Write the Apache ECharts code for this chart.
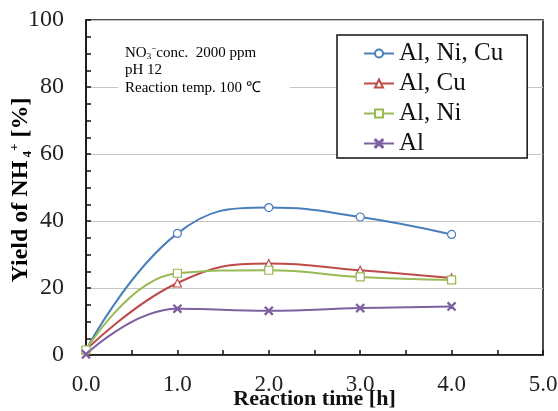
<!DOCTYPE html>
<html>
<head>
    <meta charset="utf-8">
    <title>Yield of NH4+</title>
    <script src="https://cdn.jsdelivr.net/npm/echarts@6/dist/echarts.min.js"></script>
</head>
<body style="margin:0">
    <div id="main" style="width: 558px;height:411px;"></div>
    <script type="text/javascript">

// data
var hours = [0, 1, 2, 3, 4];
var alNiCu = [1.5, 36.3, 44.0, 41.2, 36.0];
var alCu = [1.5, 21.5, 27.3, 25.3, 23.0];
var alNi = [1.5, 24.4, 25.3, 23.3, 22.4];
var alOnly = [0.2, 13.8, 13.2, 14.0, 14.5];
var seriesNames = ['Al, Ni, Cu', 'Al, Cu', 'Al, Ni', 'Al'];
var xTicks = [0, 1, 2, 3, 4, 5];
var yTicks = [0, 20, 40, 60, 80, 100];

var serif = '"Liberation Serif", "Times New Roman", serif';
var crossPath = 'path://M0,1L1,0L5,4L9,0L10,1L6,5L10,9L9,10L5,6L1,10L0,9L4,5Z';

function pairs(ys) {
    return hours.map(function (h, i) { return [h, ys[i]]; });
}

function makeSeries(name, ys, color, symbol, size) {
    return {
        name: name,
        type: 'line',
        smooth: 0.45,
        data: pairs(ys),
        symbol: symbol,
        symbolSize: size,
        showAllSymbol: true,
        lineStyle: { color: color, width: 2 },
        itemStyle: { color: '#fff', borderColor: color, borderWidth: 1.2 },
        emphasis: { disabled: true }
    };
}

var myChart = echarts.init(document.getElementById('main'));

var option = {
    backgroundColor: '#fff',
    animation: false,
    textStyle: { fontFamily: serif },
    grid: {
        left: 86, right: 15, top: 20, bottom: 56,
        outerBoundsMode: 'none',
        containLabel: false,
        show: true, borderColor: '#111', borderWidth: 1.5, backgroundColor: 'transparent'
    },
    legend: {
        orient: 'vertical',
        left: 337, top: 35,
        padding: [6, 24, 2, 26],
        itemGap: 5,
        itemWidth: 30, itemHeight: 10,
        backgroundColor: '#fff',
        borderColor: '#111', borderWidth: 1.5,
        textStyle: { fontFamily: serif, fontSize: 25, color: '#111' },
        data: seriesNames
    },
    xAxis: {
        type: 'value',
        min: xTicks[0], max: xTicks[xTicks.length - 1], interval: 1,
        name: 'Reaction time [h]',
        nameLocation: 'middle',
        nameGap: 33,
        nameMoveOverlap: false,
        nameTextStyle: { fontFamily: serif, fontSize: 22, fontWeight: 'bold', color: '#111' },
        axisLine: { lineStyle: { color: '#111', width: 1.5 } },
        axisTick: { inside: true, length: 5, lineStyle: { color: '#111', width: 1.5 } },
        minorTick: { show: true, splitNumber: 2, length: 5, lineStyle: { color: '#111', width: 1.5 } },
        axisLabel: {
            margin: 18, fontSize: 23, color: '#222', fontFamily: serif,
            formatter: function (v) { return v.toFixed(1); }
        },
        splitLine: { show: false }
    },
    yAxis: {
        type: 'value',
        min: yTicks[0], max: yTicks[yTicks.length - 1], interval: 20,
        axisLine: { lineStyle: { color: '#111', width: 1.5 } },
        axisTick: { inside: true, length: 5, lineStyle: { color: '#111', width: 1.5 } },
        minorTick: { show: true, splitNumber: 4, length: 5, lineStyle: { color: '#111', width: 1.5 } },
        axisLabel: { margin: 22, fontSize: 24, color: '#222', fontFamily: serif },
        splitLine: { show: true, lineStyle: { color: '#c4c4c4', width: 1 } }
    },
    graphic: [
        {
            type: 'rect', left: 118, top: 38, z: 50,
            shape: { width: 172, height: 58 },
            style: { fill: '#fff' }
        },
        {
            type: 'text', left: 125, top: 44, z: 51,
            style: {
                text: '{a|NO}{s|3}{p|−}{a|conc.  2000 ppm}\n{a|pH 12}\n{a|Reaction temp. 100 ℃}',
                rich: {
                    a: { fontFamily: serif, fontSize: 15, color: '#222', lineHeight: 17.5 },
                    s: { fontFamily: serif, fontSize: 9, color: '#222', verticalAlign: 'bottom', lineHeight: 17.5 },
                    p: { fontFamily: serif, fontSize: 9, color: '#222', verticalAlign: 'top', lineHeight: 17.5 }
                }
            }
        },
        {
            type: 'text', x: 21, y: 190, rotation: Math.PI / 2, z: 51,
            style: {
                text: '{a|Yield of NH}{s| 4}{p|+}{a| [%]}',
                align: 'center', verticalAlign: 'middle',
                rich: {
                    a: { fontFamily: serif, fontSize: 24, fontWeight: 'bold', color: '#111', lineHeight: 26 },
                    s: { fontFamily: serif, fontSize: 13, fontWeight: 'bold', color: '#111', verticalAlign: 'bottom', lineHeight: 26 },
                    p: { fontFamily: serif, fontSize: 13, fontWeight: 'bold', color: '#111', verticalAlign: 'top', lineHeight: 26 }
                }
            }
        }
    ],
    series: [
        makeSeries(seriesNames[0], alNiCu, '#4a7ebb', 'circle', 8),
        makeSeries(seriesNames[1], alCu, '#be4b48', 'triangle', 8),
        makeSeries(seriesNames[2], alNi, '#98b954', 'rect', 8),
        makeSeries(seriesNames[3], alOnly, '#7d60a0', crossPath, 8)
    ]
};

myChart.setOption(option);

    </script>
</body>
</html>
